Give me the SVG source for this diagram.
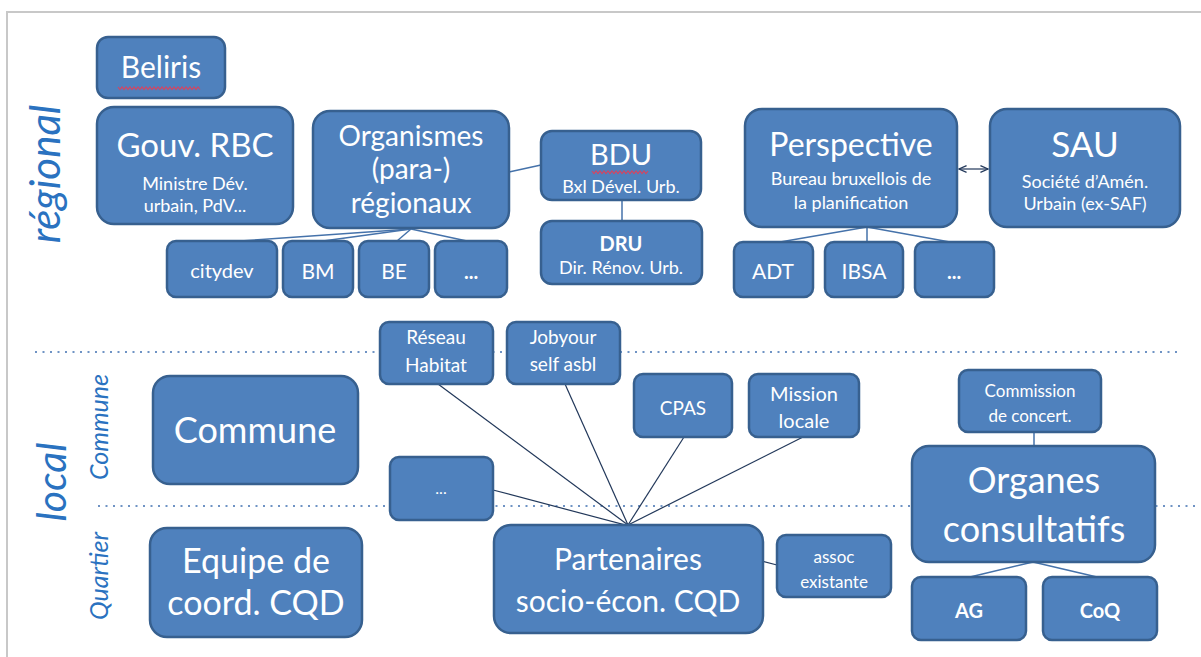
<svg xmlns="http://www.w3.org/2000/svg" width="1201" height="657" viewBox="0 0 1201 657">
  <defs>
    <style>
      .box { fill: #4f81bd; stroke: #37608f; stroke-width: 2.5; }
      .t { fill: #ffffff; font-family: Lato, "Open Sans", sans-serif; text-anchor: middle; }
      .b { font-weight: bold; }
      .lbl { fill: #2a72c0; font-family: Lato, "Open Sans", sans-serif; font-style: italic; text-anchor: middle; }
      .up { stroke: #4572aa; stroke-width: 1.5; fill: none; }
      .lo { stroke: #22385a; stroke-width: 1.2; fill: none; }
      .dot { stroke: #6f93c4; stroke-width: 2; stroke-dasharray: 2 5.5; fill: none; }
      .frame { stroke: #c8c8c8; stroke-width: 2; fill: none; }
      .spell { stroke: #d8435f; stroke-width: 1.1; fill: none; }
    </style>
    <marker id="arr" viewBox="0 0 10 10" refX="9" refY="5" markerWidth="7" markerHeight="7" orient="auto-start-reverse">
      <path d="M0,1 L9,5 L0,9" fill="none" stroke="#22385a" stroke-width="1.5"/>
    </marker>
  </defs>

  <rect width="1201" height="657" fill="#ffffff"/>
  <!-- page frame -->
  <path class="frame" d="M7,657 V12 H1201"/>

  <!-- level separators -->
  <g id="separators">
    <line class="dot" x1="35" y1="352" x2="1180" y2="352"/>
    <line class="dot" x1="98" y1="506" x2="1197" y2="506"/>
  </g>

  <!-- level labels -->
  <g id="labels">
    <text class="lbl" transform="translate(60,174) rotate(-90)" font-size="42">régional</text>
    <text class="lbl" transform="translate(66,482) rotate(-90)" font-size="41">local</text>
    <text class="lbl" transform="translate(108,427) rotate(-90)" font-size="25">Commune</text>
    <text class="lbl" transform="translate(108,576) rotate(-90)" font-size="25">Quartier</text>
  </g>

  <!-- connectors -->
  <g id="connectors">
    <line class="up" x1="509" y1="172" x2="541" y2="165"/>
    <line class="up" x1="622" y1="200" x2="622" y2="221"/>
    <line class="up" x1="411" y1="229" x2="240" y2="241"/>
    <line class="up" x1="411" y1="229" x2="323" y2="241"/>
    <line class="up" x1="411" y1="229" x2="397" y2="241"/>
    <line class="up" x1="411" y1="229" x2="467" y2="241"/>
    <line class="up" x1="867" y1="227" x2="780" y2="242"/>
    <line class="up" x1="867" y1="227" x2="867" y2="242"/>
    <line class="up" x1="867" y1="227" x2="950" y2="242"/>
    <line class="lo" x1="959" y1="169" x2="988" y2="169" marker-start="url(#arr)" marker-end="url(#arr)"/>
    <line class="lo" x1="438" y1="384" x2="628" y2="525"/>
    <line class="lo" x1="565" y1="384" x2="628" y2="525"/>
    <line class="lo" x1="684" y1="437" x2="628" y2="525"/>
    <line class="lo" x1="803" y1="437" x2="628" y2="525"/>
    <line class="lo" x1="493" y1="490" x2="777" y2="565"/>
    <line class="up" x1="1034" y1="432" x2="1034" y2="446"/>
    <line class="up" x1="1033" y1="562" x2="970" y2="577"/>
    <line class="up" x1="1033" y1="562" x2="1097" y2="577"/>
  </g>

  <!-- regional level -->
  <g id="beliris">
    <rect class="box" x="97" y="37" width="128" height="61" rx="11"/>
    <text class="t" x="161" y="78" font-size="30">Beliris</text>
    <polyline class="spell" points="118,87 120,89.5 122,87 124,89.5 126,87 128,89.5 130,87 132,89.5 134,87 136,89.5 138,87 140,89.5 142,87 144,89.5 146,87 148,89.5 150,87 152,89.5 154,87 156,89.5 158,87 160,89.5 162,87 164,89.5 166,87 168,89.5 170,87 172,89.5 174,87 176,89.5 178,87 180,89.5 182,87 184,89.5 186,87 188,89.5 190,87 192,89.5 194,87 196,89.5 198,87 200,89.5"/>
  </g>
  <g id="gouv-rbc">
    <rect class="box" x="97" y="107" width="196" height="117" rx="17"/>
    <text class="t" x="195" y="157" font-size="33">Gouv. RBC</text>
    <text class="t" x="195" y="190" font-size="18">Ministre Dév.</text>
    <text class="t" x="195" y="212" font-size="18">urbain, PdV...</text>
  </g>
  <g id="organismes">
    <rect class="box" x="313" y="111" width="196" height="117" rx="17"/>
    <text class="t" x="411" y="146" font-size="28">Organismes</text>
    <text class="t" x="411" y="179" font-size="28">(para-)</text>
    <text class="t" x="411" y="213" font-size="28">régionaux</text>
  </g>
  <g id="bdu">
    <rect class="box" x="541" y="131" width="160" height="69" rx="11"/>
    <text class="t" x="621" y="165" font-size="29">BDU</text>
    <polyline class="spell" points="592,171 594,173.5 596,171 598,173.5 600,171 602,173.5 604,171 606,173.5 608,171 610,173.5 612,171 614,173.5 616,171 618,173.5 620,171 622,173.5 624,171 626,173.5 628,171 630,173.5 632,171 634,173.5 636,171 638,173.5 640,171 642,173.5 644,171 646,173.5 648,171"/>
    <text class="t" x="621" y="193" font-size="18">Bxl Dével. Urb.</text>
  </g>
  <g id="dru">
    <rect class="box" x="541" y="221" width="161" height="63" rx="11"/>
    <text class="t b" x="621" y="251" font-size="20">DRU</text>
    <text class="t" x="621" y="274" font-size="18">Dir. Rénov. Urb.</text>
  </g>
  <g id="perspective">
    <rect class="box" x="745" y="109" width="212" height="118" rx="17"/>
    <text class="t" x="851" y="156" font-size="32">Perspective</text>
    <text class="t" x="851" y="185" font-size="18">Bureau bruxellois de</text>
    <text class="t" x="851" y="209" font-size="18">la planification</text>
  </g>
  <g id="sau">
    <rect class="box" x="990" y="109" width="190" height="118" rx="17"/>
    <text class="t" x="1085" y="157" font-size="35">SAU</text>
    <text class="t" x="1085" y="188" font-size="18">Société d’Amén.</text>
    <text class="t" x="1085" y="210" font-size="18">Urbain (ex-SAF)</text>
  </g>
  <g id="citydev">
    <rect class="box" x="167" y="241" width="110" height="56" rx="9"/>
    <text class="t" x="222" y="278" font-size="20">citydev</text>
  </g>
  <g id="bm">
    <rect class="box" x="283" y="241" width="70" height="56" rx="9"/>
    <text class="t" x="318" y="279" font-size="21">BM</text>
  </g>
  <g id="be">
    <rect class="box" x="359" y="241" width="70" height="56" rx="9"/>
    <text class="t" x="394" y="279" font-size="21">BE</text>
  </g>
  <g id="organismes-more">
    <rect class="box" x="435" y="241" width="72" height="56" rx="9"/>
    <text class="t b" x="471" y="279" font-size="20">...</text>
  </g>
  <g id="adt">
    <rect class="box" x="734" y="242" width="79" height="55" rx="9"/>
    <text class="t" x="773" y="279" font-size="21">ADT</text>
  </g>
  <g id="ibsa">
    <rect class="box" x="825" y="242" width="78" height="55" rx="9"/>
    <text class="t" x="864" y="279" font-size="21">IBSA</text>
  </g>
  <g id="perspective-more">
    <rect class="box" x="915" y="242" width="79" height="55" rx="9"/>
    <text class="t b" x="954" y="279" font-size="20">...</text>
  </g>

  <!-- local level -->
  <g id="commune">
    <rect class="box" x="153" y="376" width="205" height="108" rx="17"/>
    <text class="t" x="255" y="443" font-size="36">Commune</text>
  </g>
  <g id="equipe">
    <rect class="box" x="150" y="528" width="212" height="109" rx="17"/>
    <text class="t" x="256" y="573" font-size="34">Equipe de</text>
    <text class="t" x="256" y="615" font-size="34">coord. CQD</text>
  </g>
  <g id="reseau-habitat">
    <rect class="box" x="380" y="322" width="113" height="62" rx="9"/>
    <text class="t" x="436" y="344" font-size="19">Réseau</text>
    <text class="t" x="436" y="372" font-size="19">Habitat</text>
  </g>
  <g id="jobyourself">
    <rect class="box" x="507" y="322" width="113" height="62" rx="9"/>
    <text class="t" x="563" y="344" font-size="19">Jobyour</text>
    <text class="t" x="563" y="371" font-size="19">self asbl</text>
  </g>
  <g id="cpas">
    <rect class="box" x="634" y="374" width="98" height="63" rx="9"/>
    <text class="t" x="683" y="415" font-size="19">CPAS</text>
  </g>
  <g id="mission-locale">
    <rect class="box" x="749" y="374" width="110" height="63" rx="9"/>
    <text class="t" x="804" y="401" font-size="20">Mission</text>
    <text class="t" x="804" y="428" font-size="20">locale</text>
  </g>
  <g id="partners-more">
    <rect class="box" x="390" y="457" width="103" height="63" rx="9"/>
    <text class="t" x="441" y="494" font-size="16">...</text>
  </g>
  <g id="partenaires">
    <rect class="box" x="494" y="525" width="269" height="108" rx="17"/>
    <text class="t" x="628" y="570" font-size="30">Partenaires</text>
    <text class="t" x="628" y="612" font-size="30">socio-écon. CQD</text>
  </g>
  <g id="assoc">
    <rect class="box" x="777" y="535" width="114" height="62" rx="9"/>
    <text class="t" x="834" y="563" font-size="17">assoc</text>
    <text class="t" x="834" y="588" font-size="17">existante</text>
  </g>
  <g id="commission">
    <rect class="box" x="959" y="370" width="142" height="62" rx="9"/>
    <text class="t" x="1030" y="397" font-size="17">Commission</text>
    <text class="t" x="1030" y="422" font-size="17">de concert.</text>
  </g>
  <g id="organes">
    <rect class="box" x="912" y="446" width="243" height="116" rx="17"/>
    <text class="t" x="1034" y="493" font-size="36">Organes</text>
    <text class="t" x="1034" y="542" font-size="36">consultatifs</text>
  </g>
  <g id="ag">
    <rect class="box" x="912" y="577" width="114" height="63" rx="9"/>
    <text class="t b" x="969" y="618" font-size="20">AG</text>
  </g>
  <g id="coq">
    <rect class="box" x="1043" y="577" width="114" height="63" rx="9"/>
    <text class="t b" x="1100" y="618" font-size="20">CoQ</text>
  </g>
</svg>
